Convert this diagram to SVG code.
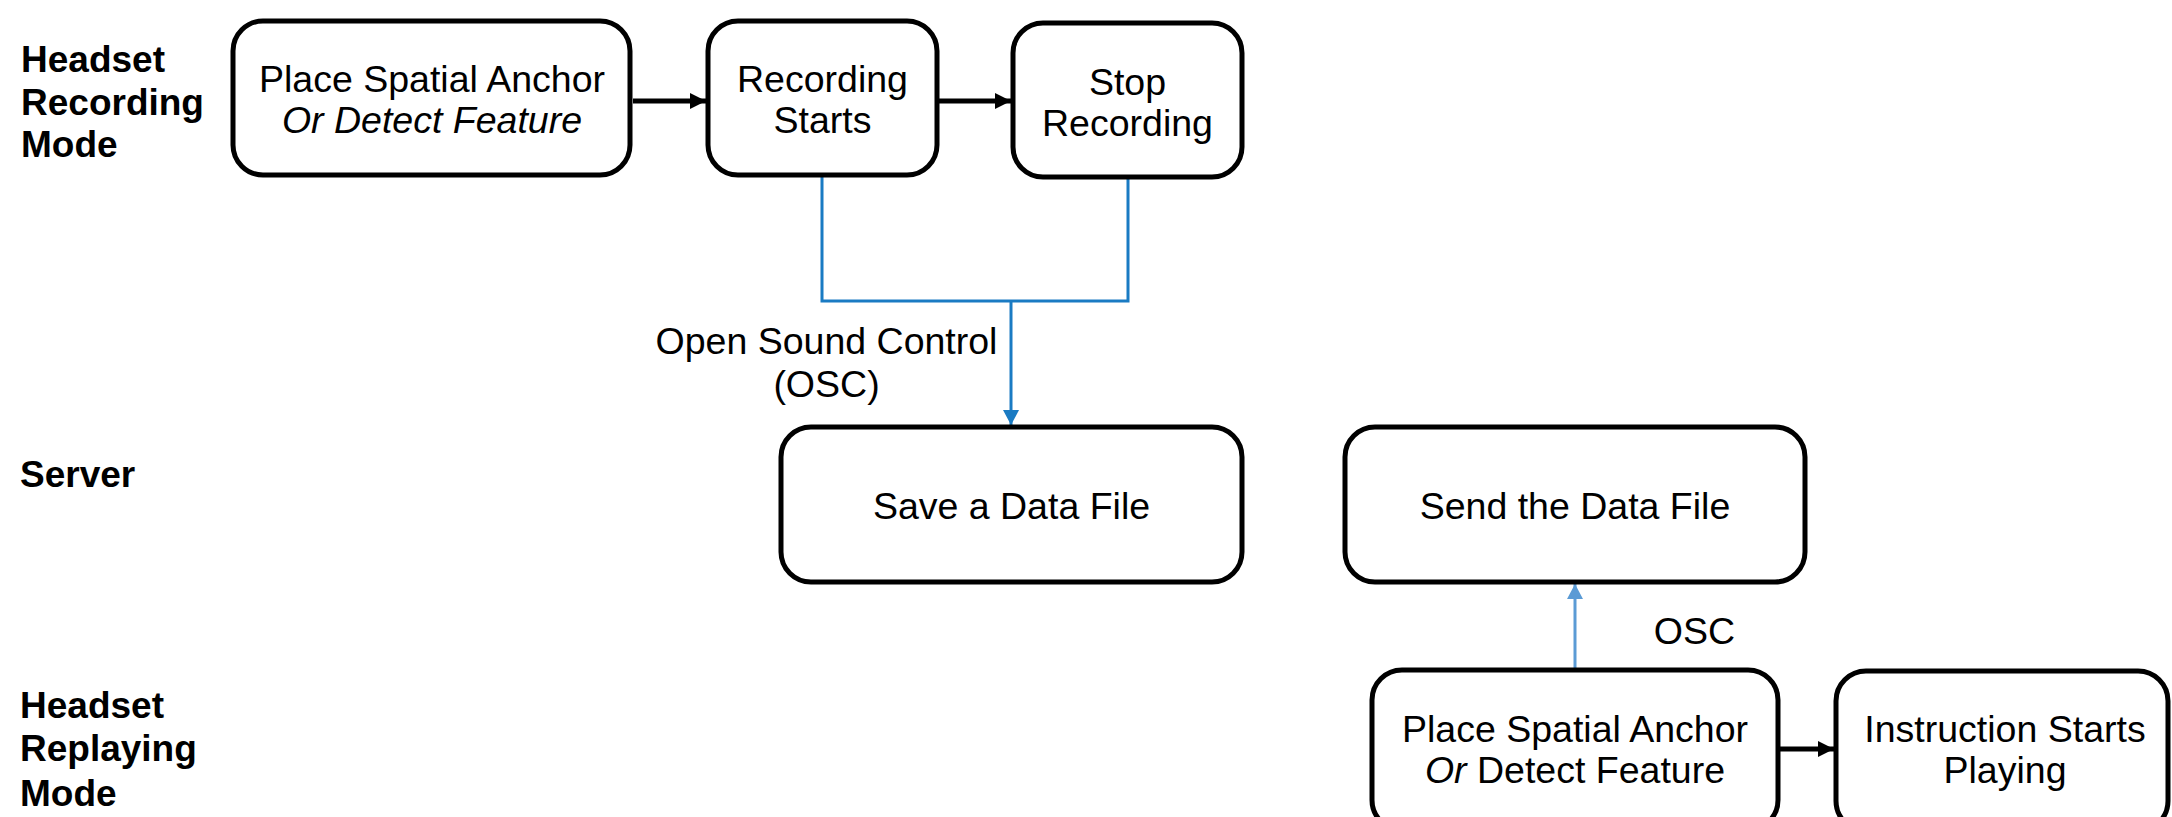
<svg xmlns="http://www.w3.org/2000/svg" width="2172" height="817" viewBox="0 0 2172 817">
<style>
  .box { fill: #ffffff; stroke: #000000; stroke-width: 5; }
  .t { font-family: "Liberation Sans", Arial, sans-serif; font-size: 37.5px; fill: #000000; text-anchor: middle; }
  .lbl { font-family: "Liberation Sans", Arial, sans-serif; font-size: 37px; font-weight: bold; fill: #000000; }
  .it { font-style: italic; }
  .blk { stroke: #000000; stroke-width: 5; fill: none; }
  .blue1 { stroke: #1A7BC3; stroke-width: 3; fill: none; }
  .blue2 { stroke: #5B9BD5; stroke-width: 3; fill: none; }
</style>
<defs>
  <marker id="ahBlack" markerUnits="userSpaceOnUse" markerWidth="16" markerHeight="16" refX="16" refY="8" orient="auto">
    <path d="M0,0 L16,8 L0,16 z" fill="#000000"/>
  </marker>
  <marker id="ahBlue1" markerUnits="userSpaceOnUse" markerWidth="15" markerHeight="16" refX="15" refY="8" orient="auto">
    <path d="M0,0 L15,8 L0,16 z" fill="#1A7BC3"/>
  </marker>
  <marker id="ahBlue2" markerUnits="userSpaceOnUse" markerWidth="15" markerHeight="16" refX="15" refY="8" orient="auto">
    <path d="M0,0 L15,8 L0,16 z" fill="#5B9BD5"/>
  </marker>
</defs>
<rect width="2172" height="817" fill="#ffffff"/>

<g id="lane-labels">
  <text class="lbl" x="21" y="72">Headset</text>
  <text class="lbl" x="21" y="114.5">Recording</text>
  <text class="lbl" x="21" y="157">Mode</text>
  <text class="lbl" x="20" y="487">Server</text>
  <text class="lbl" x="20" y="718">Headset</text>
  <text class="lbl" x="20" y="761">Replaying</text>
  <text class="lbl" x="20" y="806">Mode</text>
</g>

<g id="connectors">
  <line class="blk" x1="633" y1="101" x2="706" y2="101" marker-end="url(#ahBlack)"/>
  <line class="blk" x1="939" y1="101" x2="1011" y2="101" marker-end="url(#ahBlack)"/>
  <line class="blk" x1="1780" y1="749" x2="1834" y2="749" marker-end="url(#ahBlack)"/>
  <polyline class="blue1" points="822,177 822,301 1128,301 1128,179"/>
  <line class="blue1" x1="1011" y1="301" x2="1011" y2="425" marker-end="url(#ahBlue1)"/>
  <line class="blue2" x1="1575" y1="668" x2="1575" y2="584" marker-end="url(#ahBlue2)"/>
  <text class="t" x="826.5" y="354">Open Sound Control</text>
  <text class="t" x="826.5" y="397">(OSC)</text>
  <text class="t" x="1694.5" y="644">OSC</text>
</g>

<g id="node-place-anchor-rec">
  <rect class="box" x="233" y="21" width="397" height="154" rx="30"/>
  <text class="t" x="432" y="92">Place Spatial Anchor</text>
  <text class="t it" x="432" y="133">Or Detect Feature</text>
</g>

<g id="node-recording-starts">
  <rect class="box" x="708" y="21" width="229" height="154" rx="30"/>
  <text class="t" x="822.5" y="92">Recording</text>
  <text class="t" x="822.5" y="133">Starts</text>
</g>

<g id="node-stop-recording">
  <rect class="box" x="1013" y="23" width="229" height="154" rx="30"/>
  <text class="t" x="1127.5" y="95">Stop</text>
  <text class="t" x="1127.5" y="136">Recording</text>
</g>

<g id="node-save-data">
  <rect class="box" x="781" y="427" width="461" height="155" rx="30"/>
  <text class="t" x="1011.5" y="519">Save a Data File</text>
</g>

<g id="node-send-data">
  <rect class="box" x="1345" y="427" width="460" height="155" rx="30"/>
  <text class="t" x="1575" y="519">Send the Data File</text>
</g>

<g id="node-place-anchor-replay">
  <rect class="box" x="1372" y="670" width="406" height="160" rx="30"/>
  <text class="t" x="1575" y="742">Place Spatial Anchor</text>
  <text class="t" x="1575" y="783"><tspan class="it">Or</tspan> Detect Feature</text>
</g>

<g id="node-instruction-playing">
  <rect class="box" x="1836" y="671" width="332" height="160" rx="30"/>
  <text class="t" x="2005" y="742">Instruction Starts</text>
  <text class="t" x="2005" y="783">Playing</text>
</g>
</svg>
